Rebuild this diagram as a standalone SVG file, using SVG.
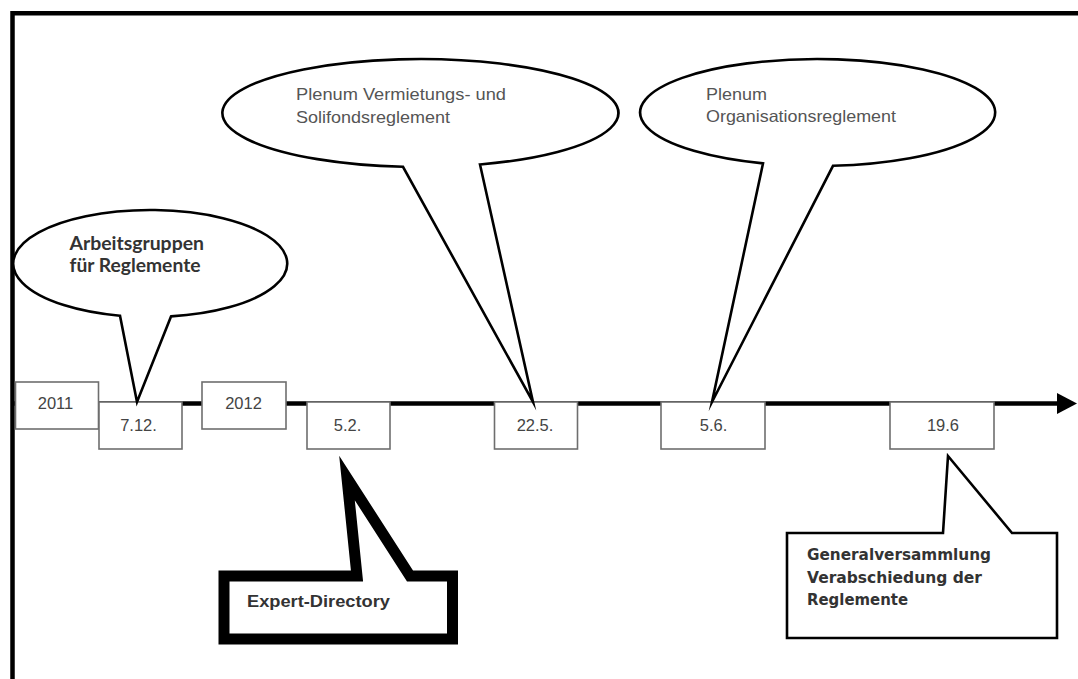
<svg xmlns="http://www.w3.org/2000/svg" width="1078" height="679" viewBox="0 0 1078 679">
  <defs>
    <style>
      .frame { stroke: #000; stroke-width: 4.5; fill: none; }
      .axis { stroke: #000; stroke-width: 4.5; fill: none; }
      .datebox { fill: #fff; stroke: #6e6e6e; stroke-width: 1.6; }
      .datetxt { font-family: "Liberation Sans", Arial, sans-serif; font-size: 16.5px; fill: #444; text-anchor: middle; }
      .bubble { fill: #fff; stroke: #000; stroke-width: 2.6; stroke-linejoin: miter; stroke-miterlimit: 10; }
      .plenum { font-family: "Liberation Sans", Arial, sans-serif; font-size: 16.5px; fill: #555; }
      .calibri { font-family: Lato, "Liberation Sans", sans-serif; font-weight: bold; font-size: 18px; fill: #333; }
      .thick { fill: #fff; stroke: #000; stroke-width: 11; stroke-linejoin: miter; stroke-miterlimit: 10; }
      .arialb { font-family: "Liberation Sans", Arial, sans-serif; font-weight: bold; font-size: 16.3px; fill: #333; }
      .verdb { font-family: "DejaVu Sans", Verdana, sans-serif; font-weight: bold; font-size: 15px; fill: #333; }
    </style>
  </defs>
  <rect x="0" y="0" width="1078" height="679" fill="#fff"/>

  <!-- frame -->
  <g id="frame">
    <path class="frame" d="M12.5,679 L12.5,13.3 L1078,13.3"/>
  </g>

  <!-- connectors: timeline axis -->
  <g id="connectors">
    <line class="axis" x1="12.5" y1="403.5" x2="1060" y2="403.5"/>
    <polygon points="1057,393 1077,403.5 1057,414" fill="#000"/>
  </g>

  <!-- date boxes -->
  <g id="d2011">
    <rect class="datebox" x="15.5" y="382" width="83" height="47"/>
    <text class="datetxt" x="55.5" y="409">2011</text>
  </g>
  <g id="d0712">
    <rect class="datebox" x="99" y="402" width="83" height="47"/>
    <text class="datetxt" x="138.5" y="431">7.12.</text>
  </g>
  <g id="d2012">
    <rect class="datebox" x="202" y="382" width="84" height="47"/>
    <text class="datetxt" x="243.5" y="409">2012</text>
  </g>
  <g id="d0502">
    <rect class="datebox" x="307" y="402" width="83" height="47"/>
    <text class="datetxt" x="347.5" y="431">5.2.</text>
  </g>
  <g id="d2205">
    <rect class="datebox" x="494.5" y="402" width="83" height="47"/>
    <text class="datetxt" x="535" y="431">22.5.</text>
  </g>
  <g id="d0506">
    <rect class="datebox" x="661" y="402" width="104" height="47"/>
    <text class="datetxt" x="713.5" y="431">5.6.</text>
  </g>
  <g id="d1906">
    <rect class="datebox" x="890" y="402" width="104" height="47"/>
    <text class="datetxt" x="943" y="431">19.6</text>
  </g>

  <!-- callout: Arbeitsgruppen -->
  <g id="arbeitsgruppen">
    <path class="bubble" d="M120,315.7 A137 53.5 0 1 1 171,316.4 L137,402 Z"/>
    <text class="calibri" x="69.5" y="250" textLength="134.5" lengthAdjust="spacingAndGlyphs">Arbeitsgruppen</text>
    <text class="calibri" x="69.5" y="272.3" textLength="131" lengthAdjust="spacingAndGlyphs">für Reglemente</text>
  </g>

  <!-- callout: Plenum Vermietungs- und Solifondsreglement -->
  <g id="plenum1">
    <path class="bubble" d="M403,166.8 A198 54 0 1 1 480,164.5 L533,402 Z"/>
    <text class="plenum" x="296" y="100" textLength="210" lengthAdjust="spacingAndGlyphs">Plenum Vermietungs- und</text>
    <text class="plenum" x="296" y="122.7" textLength="154" lengthAdjust="spacingAndGlyphs">Solifondsreglement</text>
  </g>

  <!-- callout: Plenum Organisationsreglement -->
  <g id="plenum2">
    <path class="bubble" d="M763,163.4 A177.5 53.5 0 1 1 833,165.8 L712,402 Z"/>
    <text class="plenum" x="706" y="100" textLength="61" lengthAdjust="spacingAndGlyphs">Plenum</text>
    <text class="plenum" x="706" y="121.7" textLength="190" lengthAdjust="spacingAndGlyphs">Organisationsreglement</text>
  </g>

  <!-- callout: Expert-Directory -->
  <g id="expert">
    <path class="thick" d="M224,576 L357,576 L347,478 L410,576 L452.5,576 L452.5,639 L224,639 Z"/>
    <text class="arialb" x="247" y="606.5" textLength="143" lengthAdjust="spacingAndGlyphs">Expert-Directory</text>
  </g>

  <!-- callout: Generalversammlung -->
  <g id="generalversammlung">
    <path class="bubble" d="M787,533 L943,533 L948,456 L1012,533 L1057,533 L1057,638 L787,638 Z"/>
    <text class="verdb" x="807" y="560" textLength="184" lengthAdjust="spacingAndGlyphs">Generalversammlung</text>
    <text class="verdb" x="807" y="583" textLength="175" lengthAdjust="spacingAndGlyphs">Verabschiedung der</text>
    <text class="verdb" x="807" y="605" textLength="101" lengthAdjust="spacingAndGlyphs">Reglemente</text>
  </g>
</svg>
